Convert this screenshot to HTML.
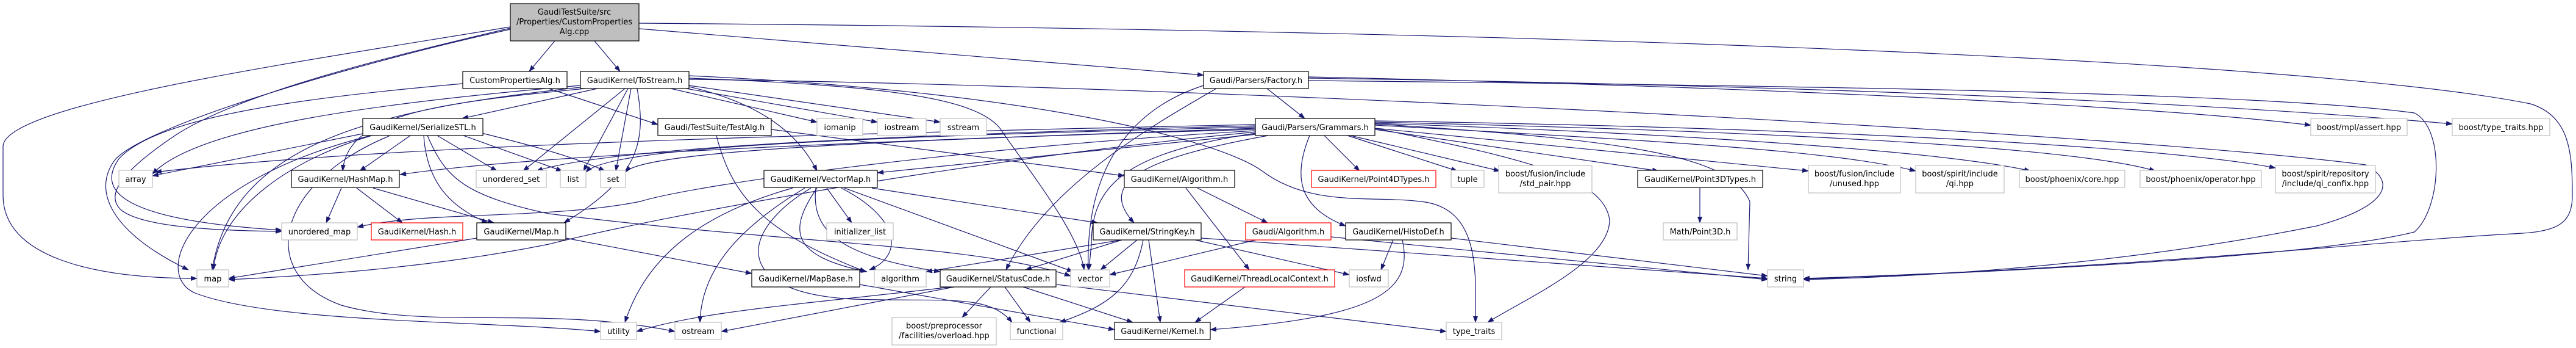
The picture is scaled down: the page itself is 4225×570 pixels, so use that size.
<!DOCTYPE html>
<html><head><meta charset="utf-8"><style>
html,body{margin:0;padding:0;background:#fff;}
svg{display:block;}
text{font-family:"DejaVu Sans","Liberation Sans",sans-serif;font-size:13px;fill:#000;}
.e{fill:none;stroke:#191970;stroke-width:1.2;}
.d{fill:#fff;stroke:#000;stroke-width:1.2;}
.x{fill:#fff;stroke:#bfbfbf;stroke-width:1.2;}
.r{fill:#fff;stroke:#ff0000;stroke-width:1.2;}
</style></head><body>
<svg width="4225" height="570" viewBox="0 0 4225 570" xmlns="http://www.w3.org/2000/svg">
<defs><marker id="a" markerWidth="11" markerHeight="8" refX="10" refY="4" orient="auto" markerUnits="userSpaceOnUse"><path d="M0,0 L11,4 L0,8 z" fill="#191970"/></marker></defs>
<g class="e" marker-end="url(#a)">
<!-- root -->
<path d="M910,67 L868,117"/>
<path d="M975,67 L1017,117"/>
<path d="M1048,47 L1974,123"/>
<path d="M1048,38 C2600,50 3800,100 4150,170 C4215,190 4219,250 4219,320 C4219,370 4190,380 4120,383 C3900,395 3500,440 2958,456"/>
<path d="M837,44 C500,100 5,170 5,240 L5,320 C5,420 150,456 323,456"/>
<path d="M837,46 C650,90 400,150 290,220 C200,280 170,320 200,345 C240,375 380,378 462,379"/>
<path d="M837,48 C600,100 250,200 190,260 C150,310 180,380 309,442"/>
<!-- CPA -->
<path d="M759,137 C500,160 260,190 195,260 C160,310 190,360 462,377"/>
<path d="M900,145 L1079,204"/>
<!-- ToStream -->
<path d="M980,145 L758,194"/>
<path d="M960,145 C700,170 570,190 562,280"/>
<path d="M1025,145 L858,280"/>
<path d="M1030,145 L957,280"/>
<path d="M1035,145 L1010,280"/>
<path d="M1045,145 C1060,230 1050,290 925,365"/>
<path d="M952,140 C600,170 320,210 250,285"/>
<path d="M952,143 C600,180 380,240 348,442"/>
<path d="M1100,145 L1340,200"/>
<path d="M1125,145 L1439,200"/>
<path d="M1130,140 L1542,200"/>
<path d="M1130,142 C1250,170 1310,220 1340,280"/>
<path d="M1130,128 C1450,140 1600,160 1640,210 C1680,270 1770,380 1778,442"/>
<path d="M1130,124 C1700,150 2000,230 2070,280 C2150,340 2250,320 2330,330 C2430,340 2420,450 2420,528"/>
<path d="M1130,130 C2000,140 3500,220 3880,270 C3935,300 3910,340 3800,370 C3500,430 3200,452 2958,458"/>
<!-- SerializeSTL -->
<path d="M600,218 L250,288"/>
<path d="M673,222 L590,280"/>
<path d="M717,222 L815,280"/>
<path d="M760,222 L922,280"/>
<path d="M790,218 C880,240 950,260 992,280"/>
<path d="M610,222 C480,260 360,340 350,442"/>
<path d="M608,222 C300,300 250,450 320,480 C450,530 800,525 985,543"/>
<path d="M640,222 C450,300 420,450 560,500 C700,540 900,500 1107,543"/>
<path d="M695,222 C700,300 740,340 800,365"/>
<path d="M701,222 C730,290 760,320 900,350 C1300,400 1600,400 1756,452"/>
<!-- HashMap -->
<path d="M560,308 L535,365"/>
<path d="M585,308 L660,365"/>
<path d="M612,308 L810,365"/>
<!-- Map -->
<path d="M782,390 L375,456"/>
<path d="M928,390 L1233,448"/>
<!-- Grammars -->
<path d="M2060,210 C1500,230 900,250 656,286"/>
<path d="M2060,206 C1500,220 1000,240 880,280"/>
<path d="M2060,208 C1400,225 1000,240 961,282"/>
<path d="M2060,212 C1400,230 1050,250 1026,282"/>
<path d="M2060,214 C1600,240 1150,300 1050,330 C900,360 700,345 586,372"/>
<path d="M2060,216 C1600,260 1100,350 900,400 C700,440 500,452 375,458"/>
<path d="M2060,220 L1439,283"/>
<path d="M2060,218 C1850,250 1790,300 1790,400 L1786,442"/>
<path d="M2080,222 C1870,260 1800,300 1860,365"/>
<path d="M2148,222 C2120,290 2130,340 2207,370"/>
<path d="M2172,222 L2230,280"/>
<path d="M2210,222 L2390,280"/>
<path d="M2215,222 L2460,280"/>
<path d="M2255,212 L2720,280"/>
<path d="M2255,210 L2966,280"/>
<path d="M2255,205 C2700,230 3000,245 3142,280"/>
<path d="M2255,202 C2800,220 3200,250 3330,280"/>
<path d="M2255,200 C2900,215 3400,240 3535,280"/>
<path d="M2255,198 C3000,210 3550,240 3732,275"/>
<path d="M2255,203 C2700,230 2840,260 2870,330 L2867,442"/>
<path d="M2255,210 C2500,260 2630,290 2640,360 C2640,430 2500,490 2440,528"/>
<path d="M2060,204 C1300,220 600,240 255,282"/>
<!-- Factory -->
<path d="M2078,145 L2140,194"/>
<path d="M1974,140 C1850,180 1780,280 1785,442"/>
<path d="M1995,145 C1900,200 1720,300 1650,442"/>
<path d="M2146,126 C2800,140 3500,170 3790,205"/>
<path d="M2146,128 C3000,140 3650,170 4022,203"/>
<path d="M2146,132 C2900,140 3700,150 3960,185 C4010,210 4005,340 3960,380 C3800,420 3300,445 2958,457"/>
<!-- TestAlg -->
<path d="M1175,222 C1200,320 1250,380 1420,445"/>
<path d="M1265,212 L1844,288"/>
<!-- VectorMap -->
<path d="M1300,308 C1150,350 1060,420 1025,528"/>
<path d="M1320,308 C1200,380 1150,450 1148,528"/>
<path d="M1340,308 C1290,380 1300,420 1422,445"/>
<path d="M1380,308 C1480,360 1480,420 1426,442"/>
<path d="M1356,308 L1397,365"/>
<path d="M1385,308 L1760,445"/>
<path d="M1430,308 L1800,365"/>
<path d="M1330,308 C1210,380 1200,480 1400,490 C1550,495 1620,480 1660,528"/>
<path d="M1338,308 C1330,380 1380,420 1542,445"/>
<!-- StringKey -->
<path d="M1840,393 L1519,445"/>
<path d="M1840,393 L1682,442"/>
<path d="M1865,393 L1805,442"/>
<path d="M1875,393 C1860,470 1820,500 1738,528"/>
<path d="M1884,393 L1903,528"/>
<path d="M1970,390 L2899,456"/>
<path d="M1960,393 L2213,450"/>
<!-- Gaudi/Algorithm -->
<path d="M2060,393 L1820,450"/>
<path d="M2183,388 L2899,458"/>
<!-- GK Algorithm -->
<path d="M1964,308 L2079,365"/>
<path d="M1945,308 L2049,442"/>
<!-- HistoDef -->
<path d="M2285,393 L2265,442"/>
<path d="M2380,390 L2899,452"/>
<path d="M2300,393 C2320,480 2250,520 1985,540"/>
<!-- TLC -->
<path d="M2042,470 L1960,528"/>
<!-- StatusCode -->
<path d="M1560,470 C1300,500 1150,510 1044,543"/>
<path d="M1565,470 L1183,543"/>
<path d="M1625,470 L1578,520"/>
<path d="M1648,470 L1690,528"/>
<path d="M1678,470 L1858,528"/>
<path d="M1733,466 L2372,543"/>
<!-- MapBase -->
<path d="M1410,466 L1828,540"/>
<!-- Point3D -->
<path d="M2788,308 L2788,365"/>
</g>
<!-- nodes -->
<g>
<rect x="837" y="6" width="211" height="61" fill="#bfbfbf" stroke="#000" stroke-width="1.2"/>
<text x="942" y="24" text-anchor="middle">GaudiTestSuite/src</text>
<text x="942" y="40" text-anchor="middle">/Properties/CustomProperties</text>
<text x="942" y="56" text-anchor="middle">Alg.cpp</text>
</g>
<g text-anchor="middle">
<rect class="d" x="759" y="117" width="171" height="28"/><text x="844.5" y="136">CustomPropertiesAlg.h</text>
<rect class="d" x="952" y="117" width="178" height="28"/><text x="1041" y="136">GaudiKernel/ToStream.h</text>
<rect class="d" x="1974" y="117" width="172" height="28"/><text x="2060" y="136">Gaudi/Parsers/Factory.h</text>
<rect class="d" x="595" y="194" width="197" height="28"/><text x="693.5" y="213">GaudiKernel/SerializeSTL.h</text>
<rect class="d" x="1079" y="194" width="186" height="28"/><text x="1172" y="213">Gaudi/TestSuite/TestAlg.h</text>
<rect class="x" x="1340" y="194" width="75" height="28"/><text x="1377.5" y="213">iomanip</text>
<rect class="x" x="1439" y="194" width="80" height="28"/><text x="1479" y="213">iostream</text>
<rect class="x" x="1542" y="194" width="76" height="28"/><text x="1580" y="213">sstream</text>
<rect class="d" x="2059" y="194" width="196" height="28"/><text x="2157" y="213">Gaudi/Parsers/Grammars.h</text>
<rect class="x" x="3790" y="194" width="158" height="28"/><text x="3869" y="213">boost/mpl/assert.hpp</text>
<rect class="x" x="4022" y="194" width="160" height="28"/><text x="4102" y="213">boost/type_traits.hpp</text>
<rect class="x" x="195" y="279" width="55" height="28"/><text x="222.5" y="298">array</text>
<rect class="d" x="478" y="279" width="177" height="28"/><text x="566.5" y="298">GaudiKernel/HashMap.h</text>
<rect class="x" x="781" y="279" width="115" height="28"/><text x="838.5" y="298">unordered_set</text>
<rect class="x" x="919" y="279" width="42" height="28"/><text x="940" y="298">list</text>
<rect class="x" x="985" y="279" width="41" height="28"/><text x="1005.5" y="298">set</text>
<rect class="d" x="1253" y="279" width="186" height="28"/><text x="1346" y="298">GaudiKernel/VectorMap.h</text>
<rect class="d" x="1844" y="279" width="181" height="28"/><text x="1934.5" y="298">GaudiKernel/Algorithm.h</text>
<rect class="r" x="2151" y="279" width="204" height="28"/><text x="2253" y="298">GaudiKernel/Point4DTypes.h</text>
<rect class="x" x="2380" y="279" width="54" height="28"/><text x="2407" y="298">tuple</text>
<rect class="x" x="2458" y="271" width="153" height="45"/><text x="2534.5" y="289">boost/fusion/include</text><text x="2534.5" y="305">/std_pair.hpp</text>
<rect class="d" x="2686" y="279" width="205" height="28"/><text x="2788.5" y="298">GaudiKernel/Point3DTypes.h</text>
<rect class="x" x="2966" y="271" width="151" height="45"/><text x="3041.5" y="289">boost/fusion/include</text><text x="3041.5" y="305">/unused.hpp</text>
<rect class="x" x="3142" y="271" width="145" height="45"/><text x="3214.5" y="289">boost/spirit/include</text><text x="3214.5" y="305">/qi.hpp</text>
<rect class="x" x="3312" y="279" width="173" height="28"/><text x="3398.5" y="298">boost/phoenix/core.hpp</text>
<rect class="x" x="3510" y="279" width="199" height="28"/><text x="3609.5" y="298">boost/phoenix/operator.hpp</text>
<rect class="x" x="3732" y="271" width="164" height="45"/><text x="3814" y="289">boost/spirit/repository</text><text x="3814" y="305">/include/qi_confix.hpp</text>
<rect class="x" x="462" y="365" width="124" height="28"/><text x="524" y="384">unordered_map</text>
<rect class="r" x="609" y="365" width="150" height="28"/><text x="684" y="384">GaudiKernel/Hash.h</text>
<rect class="d" x="782" y="365" width="146" height="28"/><text x="855" y="384">GaudiKernel/Map.h</text>
<rect class="x" x="1356" y="365" width="109" height="28"/><text x="1410.5" y="384">initializer_list</text>
<rect class="d" x="1793" y="365" width="177" height="28"/><text x="1881.5" y="384">GaudiKernel/StringKey.h</text>
<rect class="r" x="2043" y="365" width="140" height="28"/><text x="2113" y="384">Gaudi/Algorithm.h</text>
<rect class="d" x="2207" y="365" width="173" height="28"/><text x="2293.5" y="384">GaudiKernel/HistoDef.h</text>
<rect class="x" x="2728" y="365" width="121" height="28"/><text x="2788.5" y="384">Math/Point3D.h</text>
<rect class="x" x="323" y="442" width="52" height="28"/><text x="349" y="461">map</text>
<rect class="d" x="1233" y="442" width="177" height="28"/><text x="1321.5" y="461">GaudiKernel/MapBase.h</text>
<rect class="x" x="1434" y="442" width="85" height="28"/><text x="1476.5" y="461">algorithm</text>
<rect class="d" x="1542" y="442" width="190" height="28"/><text x="1637" y="461">GaudiKernel/StatusCode.h</text>
<rect class="x" x="1756" y="442" width="64" height="28"/><text x="1788" y="461">vector</text>
<rect class="r" x="1943" y="442" width="246" height="28"/><text x="2066" y="461">GaudiKernel/ThreadLocalContext.h</text>
<rect class="x" x="2213" y="442" width="64" height="28"/><text x="2245" y="461">iosfwd</text>
<rect class="x" x="2899" y="442" width="59" height="28"/><text x="2928.5" y="461">string</text>
<rect class="x" x="985" y="528" width="59" height="28"/><text x="1014.5" y="547">utility</text>
<rect class="x" x="1107" y="528" width="76" height="28"/><text x="1145" y="547">ostream</text>
<rect class="x" x="1463" y="520" width="171" height="45"/><text x="1548.5" y="538">boost/preprocessor</text><text x="1548.5" y="554">/facilities/overload.hpp</text>
<rect class="x" x="1657" y="528" width="86" height="28"/><text x="1700" y="547">functional</text>
<rect class="d" x="1828" y="528" width="157" height="28"/><text x="1906.5" y="547">GaudiKernel/Kernel.h</text>
<rect class="x" x="2372" y="528" width="91" height="28"/><text x="2417.5" y="547">type_traits</text>
</g>
</svg>
</body></html>
